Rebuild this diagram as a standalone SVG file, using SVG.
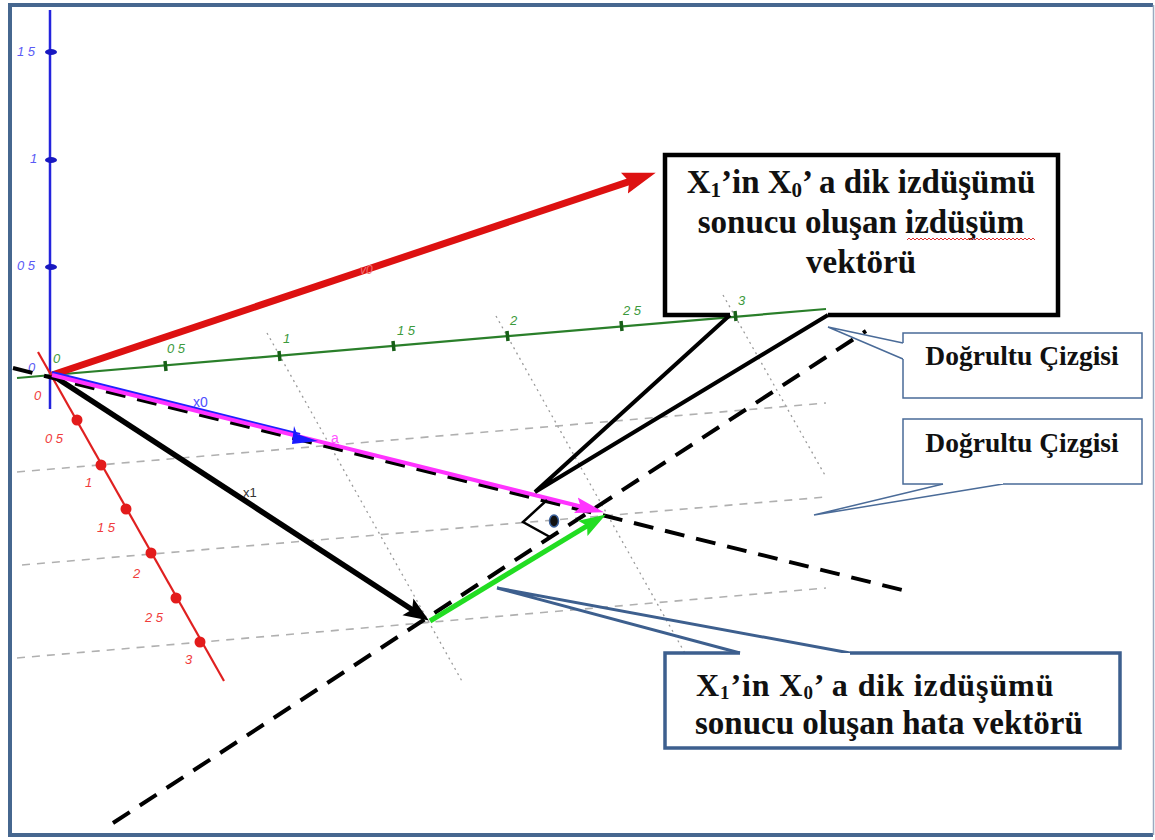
<svg xmlns="http://www.w3.org/2000/svg" width="1155" height="840" viewBox="0 0 1155 840">
<style>
.lbl{font-family:"Liberation Sans",Arial,sans-serif;font-style:italic;font-size:13px}
.lb{fill:#5a5af5}.lg{fill:#3c9a3c}.lr{fill:#f03c3c}
.bt{font-family:"Liberation Serif","Times New Roman",serif;font-weight:bold;fill:#111}
.dot{stroke:#9a9a9a;stroke-width:1.3;stroke-dasharray:2 4;fill:none}
.dsh{stroke:#b0b0b0;stroke-width:1.6;stroke-dasharray:8 7;fill:none}
.bdash{stroke:#000;stroke-width:4;stroke-dasharray:20 12;fill:none}
.call{fill:#fff;stroke:#4a6b98;stroke-width:1.5}
.callp{stroke:#4a6b98;stroke-width:1.5;fill:none}
</style>
<defs>
<marker id="ahR" markerUnits="userSpaceOnUse" viewBox="0 0 34 24" markerWidth="34" markerHeight="24" refX="8" refY="12" orient="auto"><path d="M0,1 L33,12 L0,23 L5,12 z" fill="#dd1111"/></marker>
<marker id="ahK" markerUnits="userSpaceOnUse" viewBox="0 0 26 22" markerWidth="26" markerHeight="22" refX="7" refY="11" orient="auto"><path d="M0,1 L25,11 L0,21 L5,11 z" fill="#000"/></marker>
<marker id="ahM" markerUnits="userSpaceOnUse" viewBox="0 0 30 18" markerWidth="30" markerHeight="18" refX="8" refY="9" orient="auto"><path d="M0,1 L29,9 L0,17 L5,9 z" fill="#ff33ff"/></marker>
<marker id="ahG" markerUnits="userSpaceOnUse" viewBox="0 0 28 20" markerWidth="28" markerHeight="20" refX="7" refY="10" orient="auto"><path d="M0,1 L27,10 L0,19 L5,10 z" fill="#22dd22"/></marker>
</defs>
<rect width="1155" height="840" fill="#fff"/>
<g id="frame">
<line x1="10" y1="5" x2="1153" y2="5" stroke="#46678f" stroke-width="4"/>
<line x1="10" y1="3" x2="10" y2="837" stroke="#46678f" stroke-width="4"/>
<line x1="10" y1="835" x2="1153" y2="835" stroke="#46678f" stroke-width="4"/>
<line x1="1153.5" y1="5" x2="1153.5" y2="835" stroke="#9aaac0" stroke-width="1.5"/>
</g>
<g id="grid">
<line class="dot" x1="267" y1="333" x2="463" y2="683"/>
<line class="dot" x1="496" y1="316" x2="700" y2="680"/>
<line class="dot" x1="723" y1="295" x2="826" y2="477"/>
<line class="dsh" x1="17" y1="472" x2="826" y2="403"/>
<line class="dsh" x1="22" y1="565" x2="826" y2="497"/>
<line class="dsh" x1="17" y1="658" x2="826" y2="588"/>
</g>
<g id="axis-blue">
<line x1="50" y1="10" x2="50" y2="409" stroke="#2323dd" stroke-width="2.5"/>
<ellipse cx="51" cy="52" rx="6" ry="3" fill="#1818c0"/>
<ellipse cx="51" cy="160" rx="6" ry="3" fill="#1818c0"/>
<ellipse cx="51" cy="267" rx="6" ry="3" fill="#1818c0"/>
<text class="lbl lb" x="17" y="56">1 5</text>
<text class="lbl lb" x="30" y="163">1</text>
<text class="lbl lb" x="17" y="270">0 5</text>
<text class="lbl lb" x="28" y="372">0</text>
</g>
<g id="axis-green">
<line x1="17" y1="378" x2="826" y2="309" stroke="#2a7f2a" stroke-width="2.2"/>
<g stroke="#175f17" stroke-width="3.5">
<line x1="165" y1="361" x2="166" y2="371"/>
<line x1="279" y1="351" x2="280" y2="361"/>
<line x1="393" y1="341" x2="394" y2="351"/>
<line x1="507" y1="331" x2="508" y2="341"/>
<line x1="621" y1="321" x2="622" y2="331"/>
<line x1="735" y1="311" x2="736" y2="321"/>
</g>
<text class="lbl lg" x="53" y="363">0</text>
<text class="lbl lg" x="167" y="353">0 5</text>
<text class="lbl lg" x="283" y="343">1</text>
<text class="lbl lg" x="397" y="335">1 5</text>
<text class="lbl lg" x="510" y="325">2</text>
<text class="lbl lg" x="623" y="315">2 5</text>
<text class="lbl lg" x="738" y="305">3</text>
</g>
<g id="axis-red">
<line x1="38" y1="352" x2="224" y2="681" stroke="#e02020" stroke-width="2.2"/>
<g fill="#e31b1b">
<circle cx="77" cy="420" r="5.5"/>
<circle cx="101" cy="465" r="5.5"/>
<circle cx="126" cy="509" r="5.5"/>
<circle cx="151" cy="553" r="5.5"/>
<circle cx="176" cy="598" r="5.5"/>
<circle cx="200" cy="642" r="5.5"/>
</g>
<text class="lbl lr" x="34" y="400">0</text>
<text class="lbl lr" x="45" y="443">0 5</text>
<text class="lbl lr" x="85" y="487">1</text>
<text class="lbl lr" x="97" y="532">1 5</text>
<text class="lbl lr" x="133" y="578">2</text>
<text class="lbl lr" x="145" y="622">2 5</text>
<text class="lbl lr" x="185" y="664">3</text>
</g>
<g id="connectors">
<line class="bdash" x1="13" y1="368" x2="910" y2="592"/>
<line class="bdash" x1="113" y1="823" x2="866" y2="331"/>
<line x1="52" y1="375" x2="632" y2="180.6" stroke="#dd1111" stroke-width="7" marker-end="url(#ahR)"/>
<text x="360" y="274" font-family="Liberation Sans,Arial,sans-serif" font-size="12" fill="#f07070" font-style="italic">v0</text>
<line x1="52" y1="375" x2="413.8" y2="610.7" stroke="#000" stroke-width="5.5" marker-end="url(#ahK)"/>
<text x="243" y="497" font-family="Liberation Sans,Arial,sans-serif" font-size="13" fill="#333">x1</text>
<line x1="52" y1="372.5" x2="300" y2="434.5" stroke="#2020ff" stroke-width="3"/>
<line x1="52" y1="375" x2="583.6" y2="507.2" stroke="#ff33ff" stroke-width="4" marker-end="url(#ahM)"/>
<polygon points="318,441 292,444 294,426 297,434" fill="#1a1aff"/>
<text x="193" y="407" font-family="Liberation Sans,Arial,sans-serif" font-size="14" fill="#5050ff">x0</text>
<text x="331" y="443" font-family="Liberation Sans,Arial,sans-serif" font-size="14" fill="#ff55ff">a</text>
<line x1="430" y1="621" x2="588.8" y2="524.8" stroke="#22dd22" stroke-width="5" marker-end="url(#ahG)"/>
<polyline points="547,500 523,522 550,537" fill="none" stroke="#000" stroke-width="2.5"/>
<ellipse cx="554" cy="521" rx="4.5" ry="6" fill="#111" stroke="#3a5f9a" stroke-width="1.5"/>
<polyline points="730,315 535,492 828,315" fill="none" stroke="#000" stroke-width="4"/>
<polyline class="callp" points="903,343 828,327 903,359"/>
<polyline class="callp" points="943,484 814,515 1003,484"/>
<polyline points="740,653 497,588 850,653" fill="none" stroke="#3d5f8e" stroke-width="3"/>
</g>
<g id="box-projection">
<path d="M730,315 H665 V155 H1058 V315 H828" fill="none" stroke="#000" stroke-width="4.5"/>
<text class="bt" font-size="33" text-anchor="middle" x="861" y="193">X<tspan font-size="21" dy="4">1</tspan><tspan dy="-4">’in X</tspan><tspan font-size="21" dy="4">0</tspan><tspan dy="-4">’ a dik izdüşümü</tspan></text>
<text class="bt" font-size="33" text-anchor="middle" x="861" y="233">sonucu oluşan izdüşüm</text>
<text class="bt" font-size="33" text-anchor="middle" x="861" y="273">vektörü</text>
<path d="M907,240 l2,-2 l2,2 l2,-2 l2,2 l2,-2 l2,2 l2,-2 l2,2 l2,-2 l2,2 l2,-2 l2,2 l2,-2 l2,2 l2,-2 l2,2 l2,-2 l2,2 l2,-2 l2,2 l2,-2 l2,2 l2,-2 l2,2 l2,-2 l2,2 l2,-2 l2,2 l2,-2 l2,2 l2,-2 l2,2 l2,-2 l2,2 l2,-2 l2,2 l2,-2 l2,2 l2,-2 l2,2 l2,-2 l2,2 l2,-2 l2,2 l2,-2 l2,2 l2,-2 l2,2 l2,-2 l2,2 l2,-2 l2,2 l2,-2 l2,2 l2,-2 l2,2 l2,-2 l2,2 l2,-2 l2,2 l2,-2 l2,2 l2,-2 l2,2" fill="none" stroke="#e03030" stroke-width="1"/>
</g>
<g id="box-direction-1">
<path class="call" d="M903,343 V333 H1142 V398 H903 V359"/>
<text class="bt" font-size="27.5" text-anchor="middle" x="1022" y="365">Doğrultu Çizgisi</text>
</g>
<g id="box-direction-2">
<path class="call" d="M943,484 H903 V419 H1142 V484 H1003"/>
<text class="bt" font-size="27.5" text-anchor="middle" x="1022" y="452">Doğrultu Çizgisi</text>
</g>
<g id="box-error">
<path d="M740,653 H665 V748 H1120 V653 H850" fill="#fff" stroke="#3d5f8e" stroke-width="3.5"/>
<text class="bt" font-size="32" letter-spacing="0.9" x="696" y="696">X<tspan font-size="19" dy="3">1</tspan><tspan dy="-3">’in X</tspan><tspan font-size="19" dy="3">0</tspan><tspan dy="-3">’ a dik izdüşümü</tspan></text>
<text class="bt" font-size="33" x="695" y="734">sonucu oluşan hata vektörü</text>
</g>
</svg>
